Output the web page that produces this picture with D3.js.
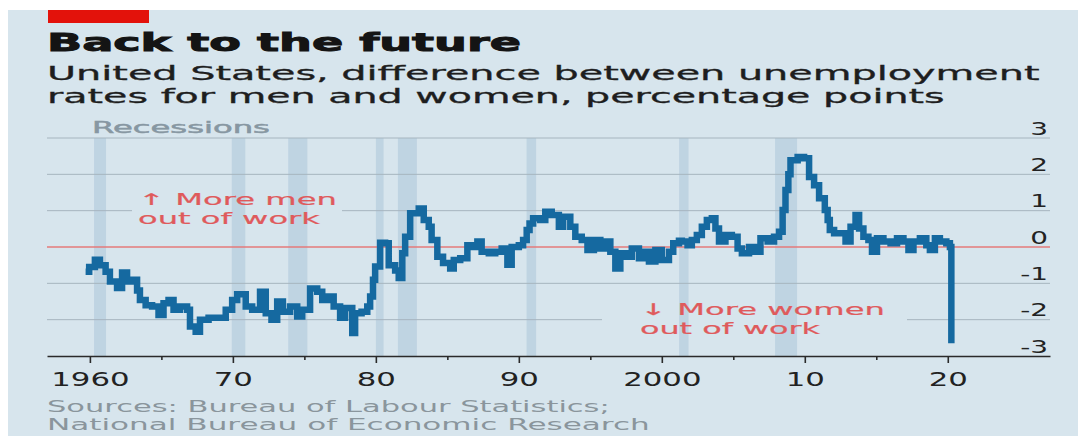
<!DOCTYPE html>
<html>
<head>
<meta charset="utf-8">
<script src="https://cdn.jsdelivr.net/npm/d3@7"></script>
<style>
  html, body { margin: 0; padding: 0; background: #ffffff; }
  svg { display: block; font-family: "DejaVu Sans", sans-serif; }
</style>
</head>
<body>
<svg id="chart" width="1078" height="436"></svg>
<script>
// Men's unemployment rate minus women's, percentage points (decimal year, value)
const years = [
  1959.7, 1959.95, 1960.35, 1960.7, 1961.1, 1961.4, 1961.9, 1962.25, 1962.6, 1963.0,
  1963.3, 1963.5, 1963.9, 1964.35, 1964.8, 1965.15, 1965.5, 1965.85, 1966.3, 1966.8,
  1967.0, 1967.4, 1967.7, 1968.3, 1969.0, 1969.5, 1969.95, 1970.3, 1970.9, 1971.35,
  1971.9, 1972.3, 1972.7, 1973.1, 1973.5, 1974.0, 1974.5, 1974.85, 1975.4, 1975.9,
  1976.25, 1976.7, 1977.05, 1977.5, 1977.85, 1978.35, 1978.55, 1979.0, 1979.4, 1979.6,
  1979.8, 1979.95, 1980.3, 1980.65, 1980.9, 1981.35, 1981.6, 1981.85, 1982.05, 1982.4,
  1983.0, 1983.35, 1983.7, 1983.9, 1984.3, 1984.7, 1985.2, 1985.45, 1985.9, 1986.4,
  1986.7, 1987.1, 1987.4, 1987.9, 1988.35, 1988.8, 1989.2, 1989.5, 1990.0, 1990.3,
  1990.55, 1990.75, 1991.0, 1991.5, 1991.85, 1992.3, 1992.8, 1993.1, 1993.6, 1993.95,
  1994.4, 1994.8, 1995.25, 1995.7, 1996.05, 1996.4, 1996.75, 1997.1, 1997.55, 1997.9,
  1998.4, 1998.7, 1999.1, 1999.55, 2000.0, 2000.5, 2000.8, 2001.2, 2001.4, 2001.8,
  2002.1, 2002.45, 2002.8, 2003.15, 2003.5, 2003.75, 2004.0, 2004.45, 2004.9, 2005.3,
  2005.6, 2006.1, 2006.55, 2006.9, 2007.4, 2007.85, 2008.2, 2008.45, 2008.65, 2008.85,
  2009.0, 2009.5, 2009.95, 2010.3, 2010.65, 2011.0, 2011.4, 2011.6, 2011.75, 2012.05,
  2012.5, 2012.85, 2013.2, 2013.55, 2013.8, 2014.1, 2014.45, 2014.7, 2015.05, 2015.5,
  2016.0, 2016.45, 2016.9, 2017.25, 2017.6, 2018.05, 2018.5, 2018.75, 2019.1, 2019.45,
  2019.9, 2020.15, 2020.25
];
const gap = [
  -0.68, -0.55, -0.35, -0.5, -0.68, -0.95, -1.13, -0.7, -0.95, -0.9,
  -1.2, -1.46, -1.6, -1.64, -1.87, -1.55, -1.46, -1.73, -1.64, -1.73,
  -2.19, -2.33, -2.0, -1.95, -1.95, -1.73, -1.46, -1.3, -1.64, -1.73,
  -1.23, -1.82, -2.0, -1.5, -1.78, -1.64, -1.91, -1.73, -1.14, -1.23,
  -1.46, -1.36, -1.64, -1.95, -1.68, -2.37, -1.82, -1.78, -1.64, -1.36,
  -0.9, -0.54, 0.12, 0.1, -0.5, -0.65, -0.85, -0.17, 0.28, 0.93,
  1.06, 0.74, 0.56, 0.19, -0.27, -0.44, -0.59, -0.36, -0.31, 0.05,
  0.0, 0.15, -0.13, -0.17, -0.13, -0.04, -0.49, 0.0, 0.05, 0.19,
  0.47, 0.65, 0.79, 0.74, 0.97, 0.88, 0.56, 0.83, 0.56, 0.28,
  0.19, -0.08, 0.19, -0.04, 0.15, -0.13, -0.59, -0.17, -0.27, -0.04,
  -0.31, -0.13, -0.4, -0.08, -0.36, -0.13, 0.1, 0.17, 0.15, 0.05,
  0.19, 0.33, 0.56, 0.74, 0.79, 0.51, 0.15, 0.33, 0.28, -0.04,
  -0.17, 0.0, -0.13, 0.24, 0.15, 0.28, 0.42, 1.02, 1.57, 2.0,
  2.39, 2.48, 2.44, 1.93, 1.7, 1.34, 1.02, 0.74, 0.47, 0.38,
  0.38, 0.15, 0.56, 0.88, 0.51, 0.28, 0.19, -0.13, 0.24, 0.15,
  0.1, 0.24, 0.15, -0.08, 0.15, 0.24, 0.05, -0.08, 0.24, 0.15,
  0.1, 0.0, -2.65
];

// NBER recession periods (decimal years)
const recessionStart = [1960.29, 1969.92, 1973.87, 1980.0, 1981.54, 1990.54, 2001.21, 2007.92];
const recessionEnd   = [1961.13, 1970.87, 1975.21, 1980.54, 1982.87, 1991.21, 2001.87, 2009.46];

// Axis ticks and labels
const yTicks = [3, 2, 1, 0, -1, -2, -3];
const xMajor = [1960, 1970, 1980, 1990, 2000, 2010, 2020];
const xLabels = ["1960", "70", "80", "90", "2000", "10", "20"];
const xMinor = [1965, 1975, 1985, 1995, 2005, 2015];

const series = years.map((t, i) => [t, gap[i]]);

const C = {
  panel: "#d7e5ed",
  band: "#bfd4e2",
  grid: "#a6b5bf",
  zero: "#e57a7a",
  line: "#1569a0",
  red: "#e3120b",
  ink: "#141414",
  sub: "#1e1e1e",
  note: "#df5a5c",
  muted: "#8797a2",
  source: "#8a959c"
};

const svg = d3.select("#chart");

// Panel background and the red tag
svg.append("rect").attr("x", 8).attr("y", 10).attr("width", 1070).attr("height", 426).attr("fill", C.panel);
svg.append("rect").attr("x", 48).attr("y", 10).attr("width", 101).attr("height", 13).attr("fill", C.red);

// Text placed at (x, y) and stretched horizontally to a given width
function label(parent, str, x, y, size, opts = {}) {
  const t = parent.append("text")
    .text(str)
    .attr("font-size", size)
    .attr("font-weight", opts.weight || "normal")
    .attr("fill", opts.fill || C.ink)
    .attr("text-anchor", opts.anchor || "start");
  if (opts.stroke) {
    t.attr("stroke", opts.fill || C.ink).attr("stroke-width", opts.stroke).attr("paint-order", "stroke");
  }
  let sx = opts.sx || 1;
  if (opts.width) sx = opts.width / t.node().getComputedTextLength();
  t.attr("transform", `translate(${x},${y}) scale(${sx},1)`);
  return t;
}

label(svg, "Back to the future", 47, 51, 24, { weight: "bold", width: 474, fill: C.ink, stroke: 0.9 });
label(svg, "United States, difference between unemployment", 47, 80, 19.5, { width: 993, fill: C.sub, stroke: 0.3 });
label(svg, "rates for men and women, percentage points", 47, 103, 19.5, { width: 898, fill: C.sub, stroke: 0.3 });

// Scales
const x = d3.scaleLinear().domain([1957, 2027.15]).range([47, 1050]);
const y = d3.scaleLinear().domain([-3, 3]).range([356, 138]);

// Recession bands
svg.append("g").selectAll("rect")
  .data(recessionStart.map((s, i) => [s, recessionEnd[i]]))
  .join("rect")
  .attr("x", d => x(d[0]))
  .attr("width", d => x(d[1]) - x(d[0]))
  .attr("y", y(3))
  .attr("height", y(-3) - y(3))
  .attr("fill", C.band);

label(svg, "Recessions", 92, 133, 16, { width: 178, fill: C.muted, stroke: 0.5 });

// Gridlines, kept clear of the two notes
const defs = svg.append("defs");
const mask = defs.append("mask").attr("id", "gridMask").attr("maskUnits", "userSpaceOnUse")
  .attr("x", 0).attr("y", 0).attr("width", 1078).attr("height", 436);
mask.append("rect").attr("x", 0).attr("y", 0).attr("width", 1078).attr("height", 436).attr("fill", "white");
mask.append("rect").attr("x", 132).attr("y", y(1) - 4).attr("width", 210).attr("height", 8).attr("fill", "black");
mask.append("rect").attr("x", 602).attr("y", y(-2) - 4).attr("width", 305).attr("height", 8).attr("fill", "black");

svg.append("g").attr("mask", "url(#gridMask)")
  .selectAll("line")
  .data(yTicks.filter(v => v !== 0 && v !== -3))
  .join("line")
  .attr("x1", x.range()[0]).attr("x2", x.range()[1])
  .attr("y1", d => y(d)).attr("y2", d => y(d))
  .attr("stroke", C.grid).attr("stroke-width", 1);

// Zero line
svg.append("line")
  .attr("x1", x.range()[0]).attr("x2", x.range()[1])
  .attr("y1", y(0)).attr("y2", y(0))
  .attr("stroke", C.zero).attr("stroke-width", 1.6);

// Y-axis labels on the right, sitting on their gridlines
const yAxis = d3.axisLeft(y).tickValues(yTicks).tickSize(0).tickPadding(0)
  .tickFormat(d => d < 0 ? "-" + Math.abs(d) : String(d));
const gy = svg.append("g").attr("transform", "translate(1048,0)").call(yAxis);
gy.select(".domain").remove();
gy.selectAll("text")
  .attr("font-family", "DejaVu Sans, sans-serif")
  .attr("font-size", 18)
  .attr("fill", "#222")
  .attr("dy", null)
  .attr("y", -4)
  .attr("transform", "scale(1.55,1)");

// Notes
label(svg, "\u2191 More men", 138, 205, 16, { width: 199, fill: C.note, stroke: 0.2 });
label(svg, "out of work", 138, 224, 16, { width: 182, fill: C.note, stroke: 0.2 });
label(svg, "\u2193 More women", 640, 315, 16, { width: 245, fill: C.note, stroke: 0.2 });
label(svg, "out of work", 640, 334, 16, { width: 180, fill: C.note, stroke: 0.2 });

// The series as a monthly-style step line
const line = d3.line().x(d => x(d[0])).y(d => y(d[1])).curve(d3.curveStepAfter);
svg.append("path")
  .datum(series)
  .attr("d", line)
  .attr("fill", "none")
  .attr("stroke", C.line)
  .attr("stroke-width", 6.5)
  .attr("stroke-linejoin", "miter");

// X axis along the -3 line
const gx = svg.append("g").attr("transform", `translate(0,${y(-3)})`);
gx.call(d3.axisBottom(x).tickValues(xMajor).tickSize(7).tickSizeOuter(0)
  .tickFormat((d, i) => xLabels[i]));
gx.select(".domain").attr("stroke", "#2a2a2a").attr("stroke-width", 1.6);
gx.selectAll(".tick line").attr("stroke", "#2a2a2a").attr("stroke-width", 1.6);
gx.selectAll(".tick text")
  .attr("font-family", "DejaVu Sans, sans-serif")
  .attr("font-size", 19)
  .attr("fill", "#222")
  .attr("dy", null)
  .attr("y", 30)
  .attr("transform", "scale(1.62,1)");

const gm = svg.append("g").attr("transform", `translate(0,${y(-3)})`);
gm.call(d3.axisBottom(x).tickValues(xMinor).tickSize(4).tickSizeOuter(0).tickFormat(""));
gm.select(".domain").remove();
gm.selectAll(".tick line").attr("stroke", "#2a2a2a").attr("stroke-width", 1.6);

// Sources
label(svg, "Sources: Bureau of Labour Statistics;", 47, 412, 15.5, { width: 563, fill: C.source });
label(svg, "National Bureau of Economic Research", 47, 430, 15.5, { width: 603, fill: C.source });
</script>
</body>
</html>
